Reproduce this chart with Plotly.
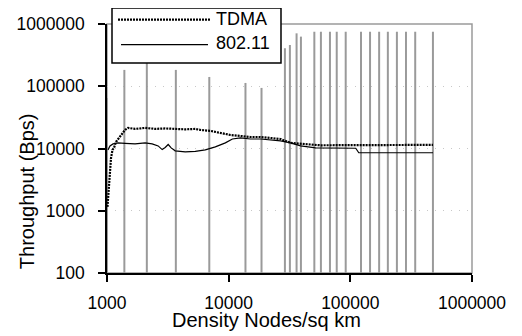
import plotly.graph_objects as go

# ---- data ----
tdma_x = [1009, 1029, 1049, 1079, 1110, 1142, 1186, 1256, 1330, 1407, 1490, 1701, 2057,
          2487, 3007, 3636, 4395, 5316, 5846, 7067, 8543, 10330, 12490, 15100, 18260,
          22070, 26690, 32270, 39010, 47160, 57020, 80000, 117300, 200000, 300000, 477900]
tdma_y = [1156, 2163, 4207, 7060, 9500, 10240, 12770, 14800, 17800, 19900, 21400, 20650, 21400,
          20650, 21000, 20650, 20300, 20650, 19900, 19200, 17800, 16500, 15900, 15300, 15300,
          14800, 14200, 12300, 11900, 11450, 11260, 11300, 11400, 11350, 11400, 11400]

w80211_x = [1019, 1058, 1121, 1232, 1407, 1701, 2057, 2350, 2633, 2841, 3007, 3184, 3370,
            3636, 4395, 5316, 6427, 7770, 9394, 10730, 12490, 15100, 18260, 22070, 26690,
            32270, 39010, 51850, 110800, 117300, 477900]
w80211_y = [9500, 11000, 11860, 12300, 12080, 11860, 12300, 11860, 11000, 9600, 10400, 11600, 10240,
            9180, 8850, 9000, 9500, 10600, 12300, 14200, 14800, 14200, 14200, 13700, 13250,
            12300, 11000, 10240, 10100, 8540, 8540]

# vertical gray bars (position and top value); they run down to the axis floor
bar_x = [1000, 1389, 2125, 3680, 6930, 13740, 18620, 28990, 31860, 36160, 39250, 50600,
         57300, 68000, 77300, 91600, 122400, 145200, 172500, 203400, 241400, 286600,
         341400, 477500]
bar_top = [65000, 183000, 300000, 183000, 141000, 113000, 94000, 408000, 460000, 708000,
           627000, 751000, 751000, 751000, 751000, 751000, 751000, 751000, 751000, 751000,
           751000, 751000, 751000, 751000]
bar_floor = 100

x_tickvals = [1000, 10000, 100000, 1000000]
x_ticktext = ["1000", "10000", "100000", "1000000"]
y_tickvals = [100, 1000, 10000, 100000, 1000000]
y_ticktext = ["100", "1000", "10000", "100000", "1000000"]

series_names = ["TDMA", "802.11"]
x_title = "Density Nodes/sq km"
y_title = "Throughput (Bps)"

FONT = "Liberation Sans, Arial, sans-serif"

# build segment arrays for the gray bars
seg_x, seg_y = [], []
for xv, top in zip(bar_x, bar_top):
    seg_x += [xv, xv, None]
    seg_y += [bar_floor, top, None]

TDMA_LINE = dict(color="black", width=2.2, dash="2px,1px")
W_LINE = dict(color="black", width=1.2)

fig = go.Figure()
fig.add_trace(go.Scatter(x=seg_x, y=seg_y, mode="lines", showlegend=False,
                         line=dict(color="#9a9a9a", width=2), hoverinfo="skip"))
fig.add_trace(go.Scatter(x=w80211_x, y=w80211_y, mode="lines", name=series_names[1],
                         line=W_LINE, showlegend=False))
fig.add_trace(go.Scatter(x=tdma_x, y=tdma_y, mode="lines", name=series_names[0],
                         line=TDMA_LINE, showlegend=False))

# legend box drawn in paper coordinates (box, sample lines, labels)
legend_shapes = [
    dict(type="rect", xref="paper", yref="paper", x0=0.0137, x1=0.4767, y0=0.8434, y1=1.0643,
         fillcolor="white", line=dict(color="black", width=1.5), layer="above"),
    dict(type="line", xref="paper", yref="paper", x0=0.0301, x1=0.2822, y0=1.0173, y1=1.0173,
         line=TDMA_LINE, layer="above"),
    dict(type="line", xref="paper", yref="paper", x0=0.0384, x1=0.2767, y0=0.9169, y1=0.9169,
         line=W_LINE, layer="above"),
]
legend_texts = [
    dict(text=series_names[0], xref="paper", yref="paper", x=0.2932, y=1.0181,
         xanchor="left", yanchor="middle", showarrow=False,
         font=dict(family=FONT, size=18, color="black")),
    dict(text=series_names[1], xref="paper", yref="paper", x=0.2932, y=0.9237,
         xanchor="left", yanchor="middle", showarrow=False,
         font=dict(family=FONT, size=18, color="black")),
]

# page body has an 8px margin, so the figure is drawn 8px in from the corner
fig.update_layout(
    width=514, height=328,
    margin=dict(l=99, r=50, t=16, b=63, autoexpand=False),
    paper_bgcolor="white", plot_bgcolor="white",
    font=dict(family=FONT, size=18, color="black"),
    showlegend=False,
    xaxis=dict(type="log", range=[3, 6], tickvals=x_tickvals, ticktext=x_ticktext,
               showgrid=False, zeroline=False, showline=True, linecolor="black",
               linewidth=1.5, ticks="outside", ticklen=7, tickcolor="black",
               tickwidth=1.5, ticklabelstandoff=6,
               tickfont=dict(family=FONT, size=17.5)),
    yaxis=dict(type="log", range=[2, 6], tickvals=y_tickvals, ticktext=y_ticktext,
               showgrid=True, gridcolor="#c8c8c8", griddash="1px,7px", gridwidth=1,
               zeroline=False, showline=True, linecolor="black",
               linewidth=1.5, ticks="outside", ticklen=7, tickcolor="black",
               tickwidth=1.5, ticklabelstandoff=10,
               tickfont=dict(family=FONT, size=17.5)),
    shapes=[dict(type="rect", xref="paper", yref="paper", x0=0, x1=1, y0=0, y1=1,
                 line=dict(color="#9a9a9a", width=1.5), layer="below")] + legend_shapes,
    annotations=[
        dict(text=y_title, xref="paper", yref="paper", x=-0.219, y=0.329,
             xanchor="center", yanchor="middle", textangle=-90, showarrow=False,
             font=dict(family=FONT, size=20, color="black")),
        dict(text=x_title, xref="paper", yref="paper", x=0.437, y=-0.19,
             xanchor="center", yanchor="middle", showarrow=False,
             font=dict(family=FONT, size=20, color="black")),
    ] + legend_texts,
)

fig.write_html("out.html")
